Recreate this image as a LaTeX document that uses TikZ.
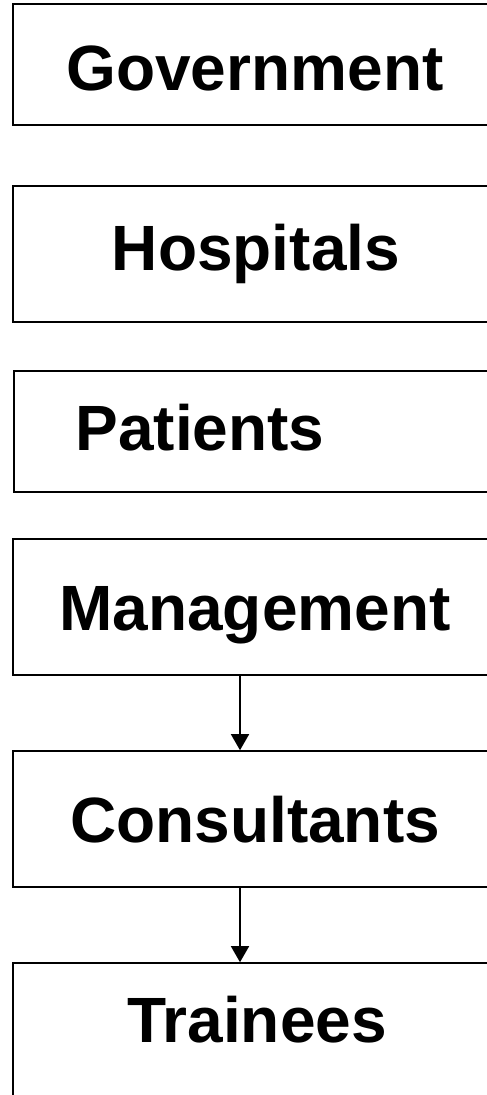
\documentclass[tikz,border=0pt]{standalone}
\usepackage{fontspec}
\setmainfont{Liberation Sans}
\usetikzlibrary{arrows.meta}
\begin{document}
\begin{tikzpicture}[x=1pt,y=1pt,
  boxnode/.style={draw=black,line width=1.6pt,rectangle,inner sep=0pt,minimum width=484pt},
  tallbox/.style={boxnode,minimum height=136pt},
  shortbox/.style={boxnode,minimum height=121pt},
  lbl/.style={anchor=base,inner sep=0pt,font=\fontsize{64}{64}\selectfont\bfseries},
  conn/.style={line width=1.6pt,-{Triangle[width=18pt,length=16pt]}}]
\useasboundingbox (0,0) rectangle (487,-1095);
\begin{scope}
\clip (0,0) rectangle (487,-1095);
\node[shortbox] (b1) at (255,-64.5) {};
\node[tallbox] (b2) at (255,-254) {};
\node[shortbox] (b3) at (256,-431.5) {};
\node[tallbox] (b4) at (255,-607) {};
\node[tallbox] (b5) at (255,-819) {};
\node[tallbox] (b6) at (255,-1031) {};
\end{scope}
\node[lbl] (t1) at (255,-90) {Government};
\node[lbl] (t2) at (256,-270) {Hospitals};
\node[lbl] (t3) at (200,-450) {Patients};
\node[lbl] (t4) at (255,-630) {Management};
\node[lbl] (t5) at (255,-842) {Consultants};
\node[lbl] (t6) at (257,-1042) {Trainees};
\coordinate (ax) at (240,0);
\draw[conn] (b4.south -| ax) -- (b5.north -| ax);
\draw[conn] (b5.south -| ax) -- (b6.north -| ax);
\end{tikzpicture}
\end{document}
